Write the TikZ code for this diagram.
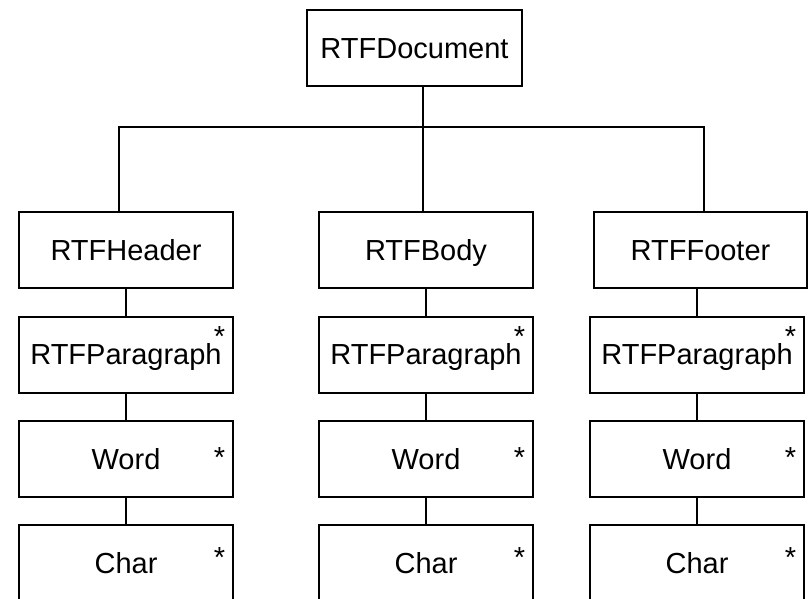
\documentclass[tikz,border=0pt]{standalone}
\usepackage{fontspec}
\setmainfont{Liberation Sans}
\newcommand{\astglyph}{\raisebox{-12.3pt}[8.5pt][0pt]{*}}
\begin{document}
\begin{tikzpicture}[x=1pt,y=-1pt,
  box/.style={draw, line width=2pt, minimum width=214pt, minimum height=76pt, inner sep=0pt,
    text height=20.8pt, text depth=0pt, font=\fontsize{29}{31}\selectfont},
  ast/.style={inner sep=0pt, anchor=north, font=\fontsize{29}{31}\selectfont},
  conn/.style={line width=2pt}]
\fill[white] (0,0) rectangle (808,598);
\useasboundingbox (0,0) rectangle (808,598);
% top
\node[box, minimum width=215pt] (doc) at (414.5,48) {RTFDocument};
% level 1
\node[box] (hdr) at (126,250) {RTFHeader};
\node[box] (body) at (426,250) {RTFBody};
\node[box, minimum width=213pt] (ftr) at (700.5,250) {RTFFooter};
% paragraphs
\node[box] (p1) at (126,354.5) {RTFParagraph};
\node[box] (p2) at (426,354.5) {RTFParagraph};
\node[box] (p3) at (697,354.5) {RTFParagraph};
% words
\node[box] (w1) at (126,459) {Word};
\node[box] (w2) at (426,459) {Word};
\node[box] (w3) at (697,459) {Word};
% chars
\node[box] (c1) at (126,563) {Char};
\node[box] (c2) at (426,563) {Char};
\node[box] (c3) at (697,563) {Char};
% asterisks
\node[ast] (p1s) at (219.5,325.5) {\astglyph};
\node[ast] (p2s) at (519.5,325.5) {\astglyph};
\node[ast] (p3s) at (790.5,325) {\astglyph};
\node[ast] (w1s) at (219.5,446.5) {\astglyph};
\node[ast] (w2s) at (519.5,446.5) {\astglyph};
\node[ast] (w3s) at (790.5,446.5) {\astglyph};
\node[ast] (c1s) at (219.5,546.5) {\astglyph};
\node[ast] (c2s) at (519.5,546.5) {\astglyph};
\node[ast] (c3s) at (790.5,546.5) {\astglyph};
% bus
\coordinate (bl) at (119,127);
\coordinate (bm) at (423,127);
\coordinate (br) at (704,127);
\draw[conn] (bl |- hdr.north) -- (bl) -- (br) -- (br |- ftr.north);
\draw[conn] (bm |- doc.south) -- (bm |- body.north);
% columns
\draw[conn] (hdr) -- (p1);
\draw[conn] (p1) -- (w1);
\draw[conn] (w1) -- (c1);
\draw[conn] (body) -- (p2);
\draw[conn] (p2) -- (w2);
\draw[conn] (w2) -- (c2);
\draw[conn] (p3.north |- ftr.south) -- (p3.north);
\draw[conn] (p3) -- (w3);
\draw[conn] (w3) -- (c3);
\end{tikzpicture}
\end{document}
